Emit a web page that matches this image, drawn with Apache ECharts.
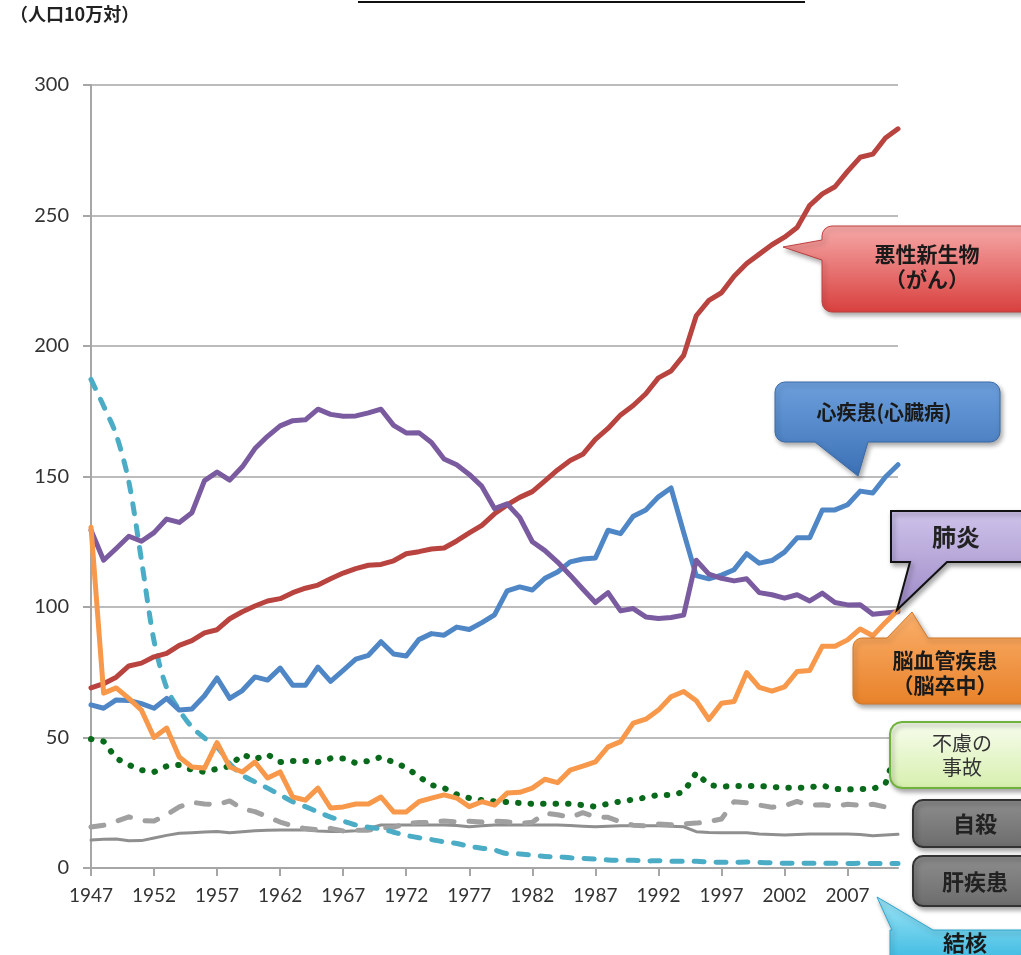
<!DOCTYPE html>
<html>
<head>
<meta charset="utf-8">
<script src="https://cdn.jsdelivr.net/npm/echarts@6/dist/echarts.min.js"></script>
<style>
  html, body { margin: 0; padding: 0; background: #fff; }
  #main { width: 1021px; height: 955px; }
</style>
</head>
<body>
<div id="main"></div>
<script>
  // 年（1947〜2011）
  var years = ['1947','1948','1949','1950','1951','1952','1953','1954','1955','1956',
    '1957','1958','1959','1960','1961','1962','1963','1964','1965','1966',
    '1967','1968','1969','1970','1971','1972','1973','1974','1975','1976',
    '1977','1978','1979','1980','1981','1982','1983','1984','1985','1986',
    '1987','1988','1989','1990','1991','1992','1993','1994','1995','1996',
    '1997','1998','1999','2000','2001','2002','2003','2004','2005','2006',
    '2007','2008','2009','2010','2011'];

  // 悪性新生物
  var cancer = [69.0,70.6,73.1,77.4,78.5,80.9,82.2,85.3,87.1,90.1,
    91.3,95.5,98.2,100.4,102.3,103.2,105.5,107.2,108.4,110.8,
    113.0,114.7,116.0,116.3,117.7,120.4,121.2,122.2,122.6,125.3,
    128.4,131.3,135.7,139.1,142.0,144.2,148.3,152.5,156.1,158.5,
    164.2,168.4,173.6,177.2,181.7,187.8,190.4,196.4,211.6,217.5,
    220.4,226.7,231.6,235.2,238.8,241.7,245.4,253.9,258.3,261.0,
    266.9,272.3,273.5,279.7,283.2];

  // 心疾患
  var heart = [62.5,61.2,64.4,64.2,63.0,61.2,65.0,60.5,60.9,66.0,
    72.8,65.0,68.0,73.2,72.0,76.6,70.0,70.0,77.0,71.5,
    75.7,80.0,81.5,86.7,82.0,81.2,87.5,89.8,89.2,92.3,
    91.4,94.0,97.0,106.2,107.7,106.5,111.0,113.4,117.3,118.4,
    118.8,129.4,128.1,134.8,137.2,142.2,145.6,128.6,112.0,110.8,
    112.2,114.3,120.4,116.8,117.8,121.0,126.5,126.5,137.2,137.2,
    139.2,144.4,143.7,149.8,154.5];

  // 紫の線
  var purpleLine = [129.4,117.9,122.4,127.1,125.2,128.5,133.7,132.4,136.1,148.4,
    151.7,148.6,153.7,160.7,165.4,169.4,171.4,171.7,175.8,173.8,
    173.1,173.2,174.4,175.8,169.6,166.7,166.8,163.0,156.7,154.5,
    150.8,146.2,137.7,139.5,134.3,125.0,121.6,117.2,112.2,106.9,
    101.7,105.5,98.5,99.4,96.2,95.6,96.0,96.9,117.9,112.6,
    111.0,110.0,110.8,105.5,104.7,103.4,104.7,102.3,105.3,101.7,
    100.8,100.9,97.2,97.7,98.2];

  // オレンジの線
  var orangeLine = [130.6,67.0,69.0,65.0,60.5,50.0,53.6,42.5,38.7,38.3,
    48.0,38.7,36.8,40.6,34.5,36.8,27.2,26.0,30.6,23.0,
    23.4,24.5,24.5,27.2,21.5,21.5,25.4,26.8,28.0,26.8,
    23.5,25.4,24.1,28.7,29.0,30.6,34.0,32.7,37.5,39.0,
    40.7,46.4,48.4,55.5,57.0,60.5,65.6,67.6,64.1,56.9,
    63.1,63.8,74.9,69.2,67.8,69.4,75.3,75.7,85.0,85.0,
    87.4,91.6,89.0,94.1,98.9];

  // 結核
  var tb = [187.2,177.0,166.0,148.0,118.0,87.0,69.0,60.5,54.0,49.8,
    46.4,40.0,35.6,33.0,30.6,28.0,25.4,23.5,21.5,19.5,
    18.0,16.5,15.6,15.0,13.7,12.5,11.6,10.9,10.0,9.4,
    8.3,7.6,6.9,5.5,5.4,4.9,4.4,4.3,3.9,3.7,
    3.4,3.1,3.0,3.0,2.7,2.8,2.6,2.6,2.6,2.3,
    2.2,2.2,2.3,2.1,2.0,1.8,1.9,1.8,1.8,1.8,
    1.7,1.8,1.7,1.7,1.7];

  // 不慮の事故
  var accident = [49.4,48.5,42.0,39.5,37.5,36.8,39.0,39.5,37.6,36.8,
    38.0,39.0,43.5,41.7,43.5,40.6,41.0,41.0,40.6,42.0,
    42.0,40.2,41.0,42.5,40.5,38.5,35.0,31.8,30.6,28.2,
    26.8,26.0,25.5,25.3,24.9,24.6,24.6,24.6,24.6,24.1,
    23.5,24.6,25.5,26.2,27.0,28.0,28.0,29.1,36.5,31.8,
    31.2,31.4,31.4,31.4,31.1,30.7,30.7,30.9,31.6,30.3,
    30.1,30.3,30.3,32.2,47.1];

  // 自殺
  var suicide = [15.7,16.4,17.9,19.6,18.2,18.0,20.4,23.4,25.2,24.5,
    24.3,25.7,22.7,21.6,19.6,17.6,16.1,15.1,14.7,15.2,
    14.2,14.5,14.5,15.3,15.6,17.0,17.4,17.5,18.0,17.6,
    17.9,17.6,18.0,17.7,17.1,17.5,21.0,20.4,19.4,21.2,
    19.6,19.4,17.7,16.4,16.1,16.9,16.6,16.9,17.2,17.8,
    18.8,25.4,25.0,24.1,23.3,23.8,25.5,24.0,24.2,23.7,
    24.4,24.0,24.4,23.4,22.9];

  // 肝疾患
  var liver = [10.7,11.0,11.1,10.4,10.5,11.5,12.5,13.3,13.5,13.8,
    14.0,13.5,13.9,14.3,14.5,14.6,14.6,14.6,14.2,14.0,
    14.0,14.3,15.2,16.5,16.5,16.5,16.5,16.5,16.5,16.3,
    15.8,16.2,16.5,16.5,16.5,16.5,16.5,16.5,16.3,16.0,
    15.8,16.0,16.2,16.2,16.2,16.2,16.0,15.8,13.9,13.6,
    13.5,13.5,13.5,13.0,12.8,12.6,12.8,13.0,13.0,13.0,
    13.0,12.8,12.4,12.6,12.9];

  var jpFont = '"Noto Sans CJK JP", sans-serif';

  // 吹き出しの形（角丸の四角＋しっぽ）
  function arc(pts, cx, cy, r, a0, a1) {
    for (var i = 0; i <= 4; i++) {
      var a = (a0 + (a1 - a0) * i / 4) * Math.PI / 180;
      pts.push([cx + r * Math.cos(a), cy + r * Math.sin(a)]);
    }
  }
  function callout(x, y, w, h, r, side, b1, b2, tip) {
    var pts = [];
    if (r > 0) arc(pts, x + r, y + r, r, 180, 270); else pts.push([x, y]);
    if (side === 'top') pts.push([b1, y], tip, [b2, y]);
    if (r > 0) arc(pts, x + w - r, y + r, r, 270, 360); else pts.push([x + w, y]);
    if (r > 0) arc(pts, x + w - r, y + h - r, r, 0, 90); else pts.push([x + w, y + h]);
    if (side === 'bottom') pts.push([b2, y + h], tip, [b1, y + h]);
    if (r > 0) arc(pts, x + r, y + h - r, r, 90, 180); else pts.push([x, y + h]);
    if (side === 'left') pts.push([x, b2], tip, [x, b1]);
    return pts;
  }
  function grad(c1, c2) {
    return new echarts.graphic.LinearGradient(0, 0, 0, 1, [
      {offset: 0, color: c1}, {offset: 1, color: c2}
    ]);
  }
  function box(pts, fill, stroke, lw) {
    return {
      type: 'polygon', z: 100,
      shape: {points: pts},
      style: {
        fill: fill, stroke: stroke, lineWidth: lw,
        shadowBlur: 5, shadowOffsetX: 2, shadowOffsetY: 3,
        shadowColor: 'rgba(0,0,0,0.35)'
      }
    };
  }
  function label(x, y, text, size, weight, color) {
    return {
      type: 'text', z: 101, x: x, y: y,
      style: {
        text: text, fill: color,
        font: weight + ' ' + size + 'px ' + jpFont,
        align: 'center', verticalAlign: 'middle',
        lineHeight: Math.round(size * 1.2)
      }
    };
  }

  var chart = echarts.init(document.getElementById('main'));

  function lineSeries(name, data, color, width, type, extra) {
    var s = {
      name: name,
      type: 'line',
      data: data,
      symbol: 'none',
      lineStyle: {color: color, width: width, type: type, cap: 'round', join: 'round'},
      z: 3
    };
    for (var k in extra) s[k] = extra[k];
    return s;
  }

  chart.setOption({
    animation: false,
    grid: {left: 91, right: 123, top: 85, bottom: 87},
    xAxis: {
      type: 'category',
      data: years,
      boundaryGap: false,
      axisLine: {lineStyle: {color: '#a6a6a6', width: 2}},
      axisTick: {interval: 4, length: 8, lineStyle: {color: '#a6a6a6', width: 2}},
      axisLabel: {interval: 4, margin: 18, fontSize: 19, color: '#333', fontFamily: 'Lato'},
      splitLine: {show: false}
    },
    yAxis: {
      type: 'value',
      min: 0, max: 300, interval: 50,
      axisLine: {show: true, lineStyle: {color: '#a6a6a6', width: 2}},
      axisTick: {show: true, length: 8, lineStyle: {color: '#a6a6a6', width: 2}},
      axisLabel: {margin: 22, fontSize: 20, color: '#333', fontFamily: 'Lato'},
      splitLine: {lineStyle: {color: '#a6a6a6', width: 1.5}}
    },
    series: [
      lineSeries('肝疾患', liver, '#8f8f8f', 3, 'solid'),
      lineSeries('自殺', suicide, '#a0a0a0', 5, [13, 15]),
      lineSeries('不慮の事故', accident, '#0a6a1c', 6, [0.5, 12]),
      lineSeries('結核', tb, '#4bacc6', 5, [10, 12], {smooth: 0.3}),
      lineSeries('悪性新生物', cancer, '#b8433f', 5, 'solid'),
      lineSeries('心疾患', heart, '#4f86c6', 5, 'solid'),
      lineSeries('紫', purpleLine, '#7a5b9f', 5, 'solid'),
      lineSeries('橙', orangeLine, '#f7984a', 5, 'solid')
    ],
    graphic: [
      {type: 'text', z: 101, x: 10, y: 14,
        style: {text: '（人口10万対）', fill: '#222', font: 'bold 18px ' + jpFont,
          align: 'left', verticalAlign: 'middle'}},
      {type: 'line', z: 101, shape: {x1: 358, y1: 2, x2: 805, y2: 2},
        style: {stroke: '#111', lineWidth: 2}},

      // 悪性新生物（がん）
      box(callout(822, 226, 240, 86, 10, 'left', 240, 260, [783, 247]),
        grad('#f6a9a8', '#d8403e'), '#c04040', 1),
      label(927, 267, '悪性新生物\n（がん）', 21, 'bold', '#1a1a1a'),

      // 心疾患（心臓病）
      box(callout(775, 382, 225, 60, 10, 'bottom', 815, 868, [858, 476]),
        grad('#6d9fdc', '#3b71b6'), '#3a6aa8', 1),
      label(884, 412, '心疾患(心臓病)', 20, 'bold', '#1a1a1a'),

      // 肺炎
      box(callout(891, 511, 150, 51, 0, 'bottom', 910, 947, [897, 610]),
        grad('#cfc3ea', '#9d8ac7'), '#111', 2),
      label(956, 537, '肺炎', 24, 'bold', '#222'),

      // 脳血管疾患（脳卒中）
      box(callout(853, 638, 190, 66, 9, 'top', 887, 928, [912, 612]),
        grad('#fbb06c', '#e8822a'), '#d07828', 1),
      label(945, 673, '脳血管疾患\n（脳卒中）', 21, 'bold', '#1a1a1a'),

      // 不慮の事故
      box(callout(890, 722, 160, 66, 12, 'none'),
        grad('#f8fdee', '#d6efae'), '#6fb33d', 2),
      label(962, 755, '不慮の\n事故', 20, 'normal', '#333'),

      // 自殺
      box(callout(913, 800, 130, 47, 10, 'none'),
        grad('#8e8e8e', '#6c6c6c'), '#333', 2),
      label(975, 824, '自殺', 22, 'bold', '#222'),

      // 肝疾患
      box(callout(913, 856, 130, 50, 10, 'none'),
        grad('#8e8e8e', '#6c6c6c'), '#333', 2),
      label(975, 882, '肝疾患', 22, 'bold', '#222'),

      // 結核
      box(callout(890, 930, 150, 40, 0, 'top', 892, 933, [877, 897]),
        grad('#9fe6f8', '#30b4de'), '#2ca6cc', 1),
      label(965, 943, '結核', 22, 'bold', '#1a1a1a')
    ]
  });
</script>
</body>
</html>
